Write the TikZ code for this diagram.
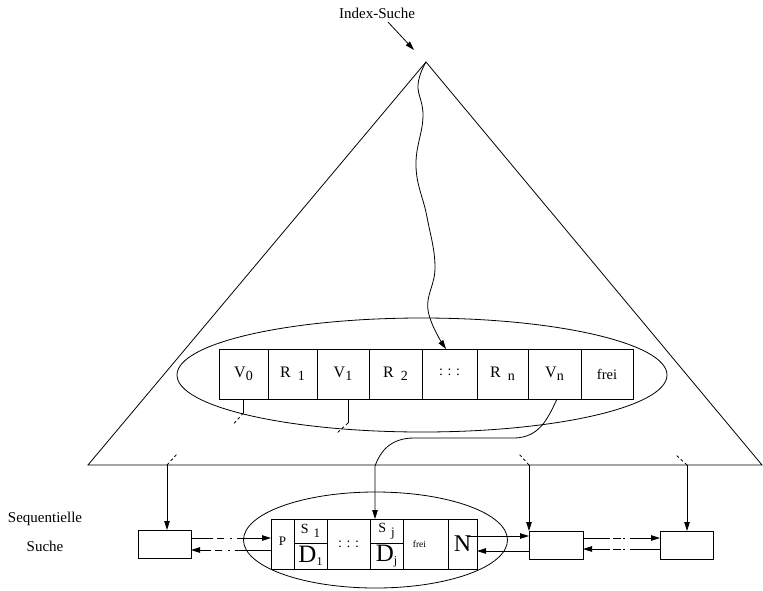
\documentclass[tikz,border=0pt]{standalone}
\usepackage{fontspec}
\setmainfont{Liberation Serif}
\usetikzlibrary{arrows.meta,shapes.geometric,calc}
\newcommand\lowsub[2][14]{\raisebox{-3.5pt}{\fontsize{#1}{#1}\selectfont #2}}
\begin{document}
\begin{tikzpicture}[x=1pt,y=-1pt, line width=0.8pt,
  arr/.style={-{Triangle[length=9pt,width=5.5pt]}},
  cell/.style={draw, rectangle, inner sep=0pt, outer sep=0pt, minimum height=50pt, font=\fontsize{16}{18}\selectfont},
  half/.style={draw, rectangle, inner sep=0pt, outer sep=0pt, minimum width=33pt},
  tick/.style={dash pattern=on 3pt off 2.5pt},
  box/.style={draw, rectangle, inner sep=0pt, outer sep=0pt, minimum height=28pt},
  oval/.style={draw, ellipse, inner sep=0pt},
  lbl/.style={font=\fontsize{15}{18}\selectfont}]
\useasboundingbox (0,0) rectangle (763,590);

% ellipses
\node[oval, minimum width=490pt, minimum height=114pt] (e1) at (422,375) {};
\node[oval, minimum width=264pt, minimum height=96pt] (e2) at (375.5,540) {};

% triangle
\coordinate (apex) at (426,62);
\coordinate (bl) at (88,465);
\coordinate (br) at (762,465);
\draw (apex) -- (br) -- (bl) -- cycle;

% index search label
\node[lbl] (idx) at (377,13) {Index-Suche};
\coordinate (idxtip) at (414,50);
\draw[arr] ([xshift=11pt]idx.south) -- (idxtip);

% upper record
\node[cell, minimum width=49pt] (v0) at (243.5,374) {V\lowsub{0}};
\node[cell, minimum width=49pt] (r1) at (292.5,374) {R\hspace{7pt}\lowsub{1}};
\node[cell, minimum width=52pt] (v1) at (343,374) {V\lowsub{1}};
\node[cell, minimum width=53pt] (r2) at (395.5,374) {R\hspace{7pt}\lowsub{2}};
\node[cell, minimum width=55pt] (ud) at (449.5,374) {\raisebox{4pt}{\fontsize{14}{14}\selectfont : : :}};
\node[cell, minimum width=51pt] (rn) at (502.5,374) {R\hspace{7pt}\lowsub{n}};
\node[cell, minimum width=53pt] (vn) at (554.5,374) {V\lowsub{n}};
\node[cell, minimum width=52pt, font=\fontsize{14.5}{16}\selectfont] (uf) at (607,374) {frei};

% wavy search path
\draw[arr] plot[smooth, tension=0.7] coordinates {(apex) (418,85) (423,117) (416,167) (427,217) (435,267) (428,310) ([xshift=-3.5pt]ud.north)};

% pointers below V0, V1
\draw (v0.south) -- ++(0,14) coordinate (v0e);
\draw[tick] (v0e) -- ++(-11,12);
\draw ([xshift=5pt]v1.south) -- ++(0,24) coordinate (v1e);
\draw[tick] (v1e) -- ++(-11,10);

% lower record
\node[cell, minimum width=23pt, font=\fontsize{13}{14}\selectfont] (P) at (282.5,544) {\raisebox{5pt}{P}};
\node[half, minimum height=24pt, font=\fontsize{14}{15}\selectfont] (s1) at (310.5,531) {S\hspace{5pt}\lowsub[13]{1}};
\node[half, minimum height=26pt, font=\fontsize{25}{26}\selectfont] (d1) at (310.5,556) {D\lowsub[12]{1}};
\node[cell, minimum width=43pt, font=\fontsize{14}{15}\selectfont] (ld) at (348.5,544) {: : :};
\node[half, minimum height=24pt, font=\fontsize{14}{15}\selectfont] (sj) at (386.5,531) {S\hspace{5pt}\lowsub[13]{j}};
\node[half, minimum height=26pt, font=\fontsize{25}{26}\selectfont] (dj) at (386.5,556) {D\lowsub[12]{j}};
\node[cell, minimum width=45pt, font=\fontsize{9.5}{10}\selectfont] (lf) at (425.5,544) {\hspace*{-12pt}\raisebox{-5pt}{frei}};
\node[cell, minimum width=29pt, font=\fontsize{24}{25}\selectfont] (N) at (462.5,544) {N};

% pointer from Vn to Sj
\draw[arr] ([xshift=2.5pt]vn.south) .. controls (548,418) and (540,437) .. (515,438)
  -- (414,438) .. controls (390,438) and (380,452) .. (375,466) -- ([xshift=-11.5pt]sj.north);

% leaf boxes
\node[box, minimum width=53pt] (lb) at (164.5,544) {};
\node[box, minimum width=54pt] (rb1) at (556,545) {};
\node[box, minimum width=53pt] (rb2) at (686.5,545) {};

% index to leaves
\coordinate (m1) at (167,465);
\draw[tick] (m1) -- ++(10,-11);
\draw[arr] (m1) -- (m1 |- lb.north);
\coordinate (m2) at (529,465);
\draw[tick] (m2) -- ++(-10,-11);
\draw[arr] (m2) -- (m2 |- rb1.north);
\coordinate (m3) at (687,465);
\draw[tick] (m3) -- ++(-12,-11);
\draw[arr] (m3) -- (m3 |- rb2.north);

% sequential links
\draw[arr, dash pattern=on 22pt off 4pt on 7pt off 6pt on 2pt off 5pt on 100pt] ([yshift=6pt]lb.east) -- ([yshift=6pt]P.west);
\draw[arr, dash pattern=on 36pt off 5pt on 2pt off 6pt on 7pt off 4pt on 100pt] ([yshift=-6pt]P.west) -- ([yshift=-6pt]lb.east);
\draw[arr] ([xshift=4.5pt,yshift=8pt]N.center) -- ([yshift=9pt]rb1.west);
\draw[arr] ([yshift=-6pt]rb1.west) -- ([yshift=-7pt]N.east);
\draw[arr, dash pattern=on 27pt off 3pt on 8pt off 2pt on 2pt off 5pt on 100pt] ([yshift=7pt]rb1.east) -- ([yshift=7pt]rb2.west);
\draw[arr, dash pattern=on 30pt off 5pt on 2pt off 2pt on 8pt off 3pt on 100pt] ([yshift=-4pt]rb2.west) -- ([yshift=-4pt]rb1.east);

% side label
\node[align=center, font=\fontsize{15}{29}\selectfont] (seq) at (45,532) {Sequentielle\\Suche};
\end{tikzpicture}
\end{document}
